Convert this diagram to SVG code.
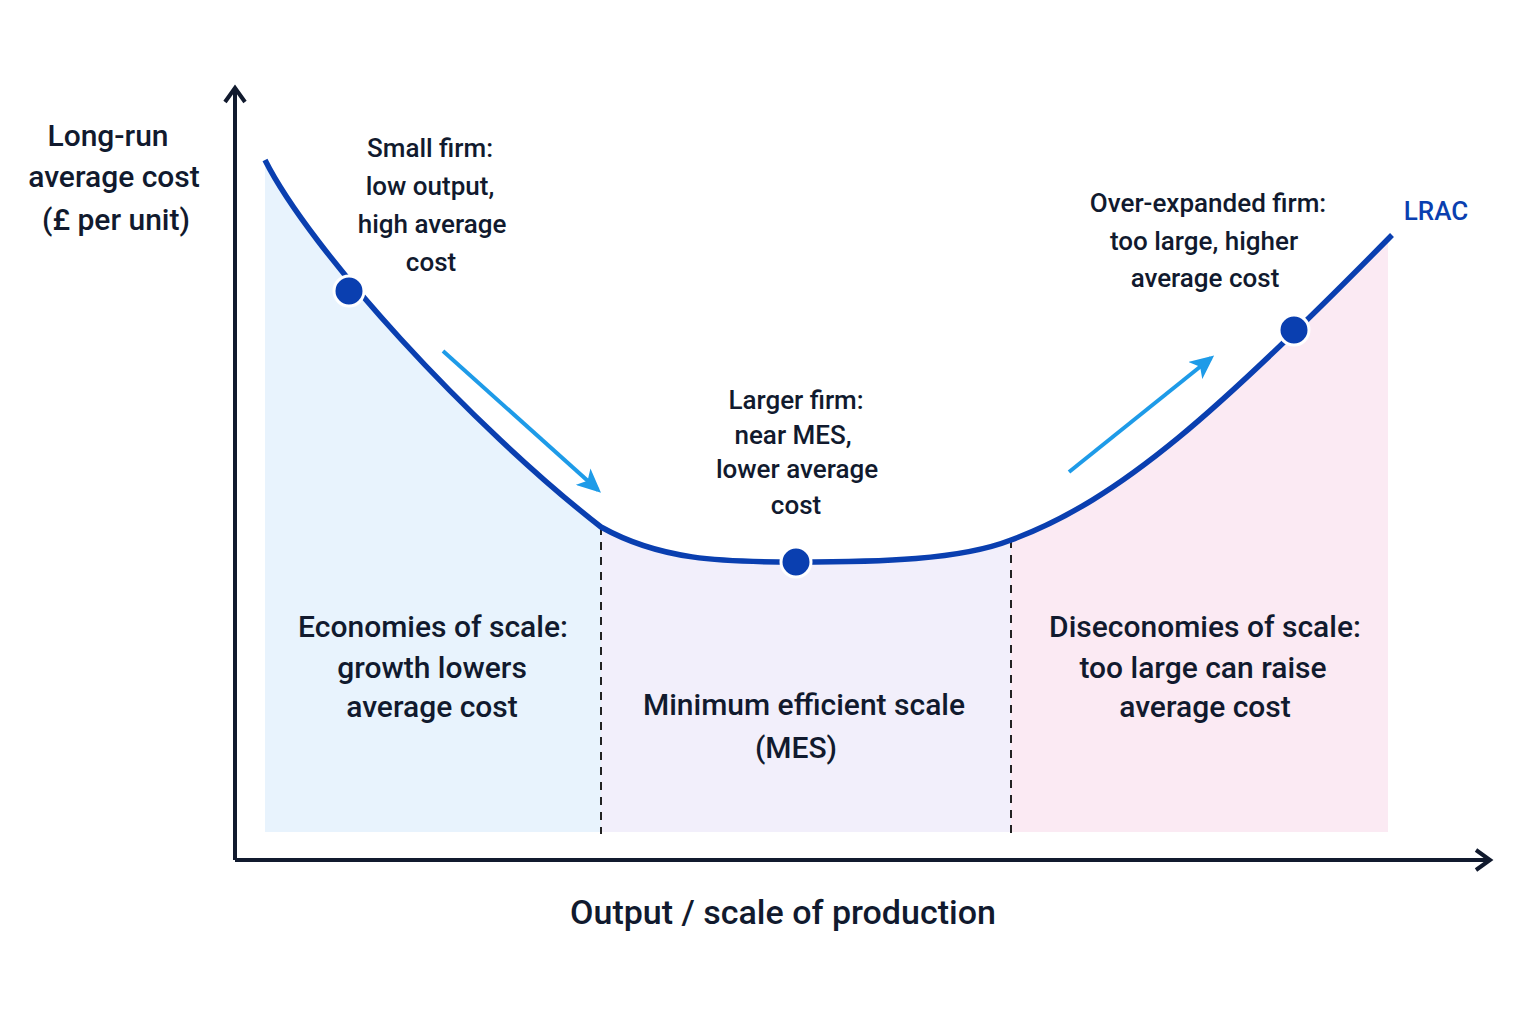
<svg xmlns="http://www.w3.org/2000/svg" width="1536" height="1024" viewBox="0 0 1536 1024">
<style>
text{font-family:Roboto,"Liberation Sans",sans-serif;fill:#111a2e;text-anchor:middle;font-weight:500}
.s{font-size:26px}.m{font-size:30px}
.ax{stroke:#111a2e;stroke-width:4;fill:none}
.dash{stroke:#222;stroke-width:2;stroke-dasharray:8,7}
.dot{fill:#0a3fb0;stroke:#fff;stroke-width:3}
.arr{stroke:#1e9be8;stroke-width:4;fill:none}
</style>
<defs>
<marker id="ah" markerWidth="26" markerHeight="22" refX="20" refY="11" orient="auto" markerUnits="userSpaceOnUse" viewBox="0 0 26 22"><path d="M0,0 L24,11 L0,22 L6,11 z" fill="#1e9be8"/></marker>
<marker id="axh" markerWidth="24" markerHeight="24" refX="14" refY="12" orient="auto" markerUnits="userSpaceOnUse"><path d="M2,2 L16,12 L2,22" fill="none" stroke="#111a2e" stroke-width="4"/></marker>
<clipPath id="under"><path d="M265,160 C310,250 470,425 601,527 C660,560 720,562 796,562 C880,562 960,560 1011,540 C1120,500 1220,410 1392,235 L1392,832 L265,832 z"/></clipPath>
</defs>
<rect width="1536" height="1024" fill="#fff"/>
<g id="regions" clip-path="url(#under)">
<rect x="263" y="100" width="338" height="732" fill="#e8f3fd"/>
<rect x="601" y="100" width="410" height="732" fill="#f2effb"/>
<rect x="1011" y="100" width="377" height="732" fill="#fbeaf3"/>
</g>
<g id="axes">
<path class="ax" d="M235,860 L235,90" marker-end="url(#axh)"/>
<path class="ax" d="M235,860 L1488,860" marker-end="url(#axh)"/>
</g>
<g id="connectors">
<line class="dash" x1="601" y1="527" x2="601" y2="834"/>
<line class="dash" x1="1011" y1="540" x2="1011" y2="834"/>
<path d="M265,160 C310,250 470,425 601,527 C660,560 720,562 796,562 C880,562 960,560 1011,540 C1120,500 1220,410 1392,235" fill="none" stroke="#0a3fb0" stroke-width="5.5"/>
<line class="arr" x1="443" y1="351" x2="598" y2="490" marker-end="url(#ah)"/>
<line class="arr" x1="1069" y1="472" x2="1211" y2="358" marker-end="url(#ah)"/>
</g>
<g id="points">
<circle class="dot" cx="349" cy="291" r="15"/>
<circle class="dot" cx="796" cy="562" r="15"/>
<circle class="dot" cx="1294" cy="330" r="15"/>
</g>
<g id="labels">
<text class="m" x="108" y="146">Long-run</text>
<text class="m" x="114" y="187">average cost</text>
<text class="m" x="116" y="230">(£ per unit)</text>
<text class="s" x="430" y="157">Small firm:</text>
<text class="s" x="430" y="195">low output,</text>
<text class="s" x="432" y="233">high average</text>
<text class="s" x="431" y="271">cost</text>
<text class="s" x="796" y="409">Larger firm:</text>
<text class="s" x="793" y="444">near MES,</text>
<text class="s" x="797" y="478">lower average</text>
<text class="s" x="796" y="514">cost</text>
<text class="s" x="1208" y="212">Over-expanded firm:</text>
<text class="s" x="1204" y="250">too large, higher</text>
<text class="s" x="1205" y="287">average cost</text>
<text class="s" x="1436" y="220" style="fill:#0a3fb0">LRAC</text>
<text class="m" x="433" y="637">Economies of scale:</text>
<text class="m" x="432" y="678">growth lowers</text>
<text class="m" x="432" y="717">average cost</text>
<text class="m" x="804" y="715">Minimum efficient scale</text>
<text class="m" x="796" y="758">(MES)</text>
<text class="m" x="1205" y="637">Diseconomies of scale:</text>
<text class="m" x="1203" y="678">too large can raise</text>
<text class="m" x="1205" y="717">average cost</text>
<text x="783" y="924" style="font-size:34px">Output / scale of production</text>
</g>
</svg>
